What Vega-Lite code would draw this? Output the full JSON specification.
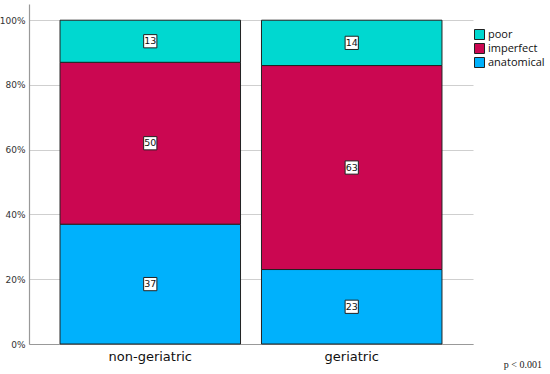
{
  "$schema": "https://vega.github.io/schema/vega-lite/v6.json",
  "width": 444,
  "height": 340,
  "autosize": "none",
  "padding": {"left": 29, "top": 4, "right": 77, "bottom": 30},
  "background": "white",
  "config": {"view": {"stroke": null}, "font": "DejaVu Sans"},
  "title": {"text": "p < 0.001", "orient": "bottom", "anchor": "end", "frame": "bounds", "font": "Liberation Serif", "fontSize": 10, "fontWeight": "normal", "color": "#222", "offset": -3, "dx": -3},
  "data": {"values": [
    {"group": "non-geriatric", "outcome": "anatomical", "order": 1, "value": 37},
    {"group": "non-geriatric", "outcome": "imperfect", "order": 2, "value": 50},
    {"group": "non-geriatric", "outcome": "poor", "order": 3, "value": 13},
    {"group": "geriatric", "outcome": "anatomical", "order": 1, "value": 23},
    {"group": "geriatric", "outcome": "imperfect", "order": 2, "value": 63},
    {"group": "geriatric", "outcome": "poor", "order": 3, "value": 14}
  ]},
  "encoding": {
    "x": {"field": "group", "type": "nominal", "sort": ["non-geriatric", "geriatric"],
      "scale": {"paddingInner": 0.104, "paddingOuter": 0.154},
      "axis": {"title": null, "labelAngle": 0, "ticks": false, "labelFontSize": 13, "labelColor": "#111", "labelPadding": 6, "domainColor": "#999", "domainWidth": 1.2}},
    "y": {"field": "value", "type": "quantitative", "stack": "zero",
      "scale": {"domain": [0, 105], "nice": false},
      "axis": {"title": null, "values": [0, 20, 40, 60, 80, 100], "labelExpr": "datum.value + '%'", "ticks": false, "labelFontSize": 9, "labelColor": "#333", "labelPadding": 4, "grid": true, "gridColor": "#cfcfcf", "domainColor": "#999", "domainWidth": 1.2}},
    "order": {"field": "order", "type": "quantitative"}
  },
  "layer": [
    {
      "mark": {"type": "bar", "stroke": "#222", "strokeWidth": 1},
      "encoding": {
        "color": {"field": "outcome", "type": "nominal",
          "scale": {"domain": ["poor", "imperfect", "anatomical"], "range": ["#00D8D0", "#CB0751", "#00B1FC"]},
          "legend": {"title": null, "orient": "none", "legendX": 445, "legendY": 25, "symbolType": "square", "symbolSize": 100, "symbolStrokeColor": "#222", "symbolStrokeWidth": 1, "labelFont": "Open Sans", "labelFontSize": 11, "labelColor": "#111", "rowPadding": -1, "labelOffset": 3}}
      }
    },
    {
      "mark": {"type": "point", "shape": "square", "filled": true, "fill": "white", "stroke": "#222", "strokeWidth": 1, "size": 175, "opacity": 1},
      "encoding": {"y": {"field": "value", "type": "quantitative", "stack": "zero", "bandPosition": 0.5}}
    },
    {
      "mark": {"type": "text", "fontSize": 9.5, "color": "#111", "baseline": "middle"},
      "encoding": {"y": {"field": "value", "type": "quantitative", "stack": "zero", "bandPosition": 0.5}, "text": {"field": "value", "type": "quantitative"}}
    }
  ]
}
